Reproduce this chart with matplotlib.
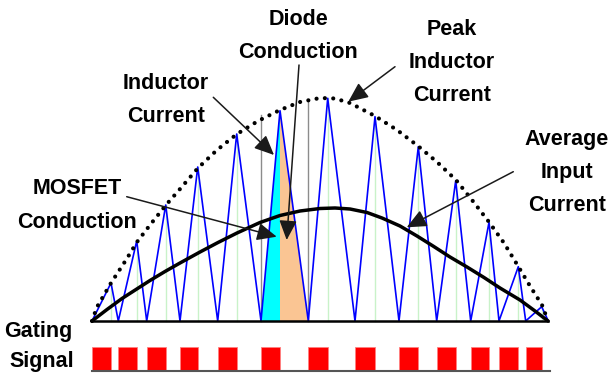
import matplotlib.pyplot as plt

# time axis: pixels-ish units from start of line cycle, current from baseline
t_valley = [0, 26.3, 54.7, 88, 125.7, 169, 216.3, 263, 307, 344.7, 378.7, 407, 433.7, 456.3]
t_peak = [19, 44.7, 73.7, 105.7, 144.7, 188, 235.7, 283, 326.3, 363.7, 397, 426.3, 449.7]
i_peak = [38, 80, 116, 154, 187, 210.3, 222.7, 204.3, 174.3, 140.3, 98.7, 54.3, 14.3]

# peak inductor current envelope (dotted)
env_t = [0, 5, 19, 34, 45, 58, 74, 88, 106, 125, 145, 166, 188, 208, 228, 243,
         258, 283, 305, 326, 345, 364, 380, 397, 412, 426, 438, 450, 456]
env_i = [0, 14, 38, 61, 79, 96, 116, 132, 153, 171, 187, 200, 211, 219, 223, 222.5,
         218, 205, 191, 175, 159, 141, 121, 99, 78, 55, 35, 16, 0]

# average input current
avg_t = [0, 15, 30, 44, 58, 73, 88, 108, 126, 145, 168, 188, 208, 228, 243, 258,
         275, 290, 308, 325, 341, 358, 375, 392, 408, 428, 443, 456]
avg_i = [0, 11.5, 22.5, 31.5, 40.5, 49.5, 58, 69, 78.5, 88, 98.5, 105.5, 110, 112.5, 113, 112,
         108.5, 103, 95, 85, 75, 64, 54, 43.5, 33, 21, 10, 0]

# highlighted switching period (MOSFET then diode)
hl_t = [169, 188, 216.3]
hl_top = [206, 219]   # grey markers at period edges

gate_lo, gate_hi = -50, -26

fig = plt.figure(figsize=(6.11, 3.78), dpi=100)
ax = fig.add_axes([0, 0, 1, 1])
ax.set_xlim(-92, 519)
ax.set_ylim(-57, 321)
ax.axis('off')

# thin guide lines at the peaks
for tp, ip in zip(t_peak, i_peak):
    ax.plot([tp, tp], [0, ip], color='#c9f2c9', lw=1, zorder=1)
ax.plot([hl_t[0], hl_t[0]], [0, hl_top[0]], color='#8c8c8c', lw=1, zorder=1)
ax.plot([hl_t[2], hl_t[2]], [0, hl_top[1]], color='#8c8c8c', lw=1, zorder=1)

# conduction areas
k = t_peak.index(hl_t[1])
ax.fill([hl_t[0], hl_t[1], hl_t[1]], [0, i_peak[k], 0], color='#00ffff', lw=0, zorder=2)
ax.fill([hl_t[1], hl_t[1], hl_t[2]], [0, i_peak[k], 0], color='#fac593', lw=0, zorder=2)

# triangular inductor current
wt, wi = [], []
for n in range(len(t_peak)):
    wt += [t_valley[n], t_peak[n]]
    wi += [0, i_peak[n]]
wt.append(t_valley[-1])
wi.append(0)
ax.plot(wt, wi, color='#0000ff', lw=1.2, zorder=3)

ax.plot(env_t, env_i, color='black', lw=3, linestyle=(0, (0.01, 2.0)),
        dash_capstyle='round', zorder=4)
ax.plot(avg_t, avg_i, color='black', lw=2.5, zorder=4, solid_capstyle='round',
        solid_joinstyle='round')
ax.plot([0, t_valley[-1]], [0, 0], color='black', lw=1.8, zorder=4)

# gating signal
for tv, tp in zip(t_valley[:-1], t_peak):
    ax.fill([tv, tp, tp, tv], [gate_lo, gate_lo, gate_hi, gate_hi],
            color='#ff0000', ec='#ff8080', lw=0.6, zorder=2)
ax.plot([0, t_valley[-1] + 2], [gate_lo, gate_lo], color='#555555', lw=1.5, zorder=3)

font = dict(family='Liberation Sans', weight='bold', size=15.5, color='black',
            ha='center', va='baseline')

def label(x, base, lines, dy=33):
    # x, base given in picture pixels
    for n, s in enumerate(lines):
        ax.text(x - 92, 321 - (base + n * dy), s, **font)

label(298, 25, ['Diode', 'Conduction'])
label(452, 35, ['Peak', 'Inductor', 'Current'], dy=33)
label(166, 89, ['Inductor', 'Current'])
label(77, 194, ['MOSFET', 'Conduction'], dy=34)
label(567, 145, ['Average', 'Input', 'Current'])
ax.text(38 - 92, 321 - 337, 'Gating', **font)
ax.text(42 - 92, 321 - 367, 'Signal', **font)

arrows = [((121.3, 223.7), (182, 166)),
          ((34.7, 124.3), (184.7, 84.3)),
          ((207, 256), (194.7, 81)),
          ((303, 254.3), (256.3, 219.3)),
          ((421.3, 149.3), (314.7, 93.7))]
for start, tip in arrows:
    ax.annotate('', xy=tip, xytext=start, zorder=6,
                arrowprops=dict(arrowstyle='-|>,head_length=0.6,head_width=0.27',
                                mutation_scale=20, color='#1a1a1a', lw=1.1,
                                shrinkA=0, shrinkB=0))

fig.savefig('out.png', dpi=100)
